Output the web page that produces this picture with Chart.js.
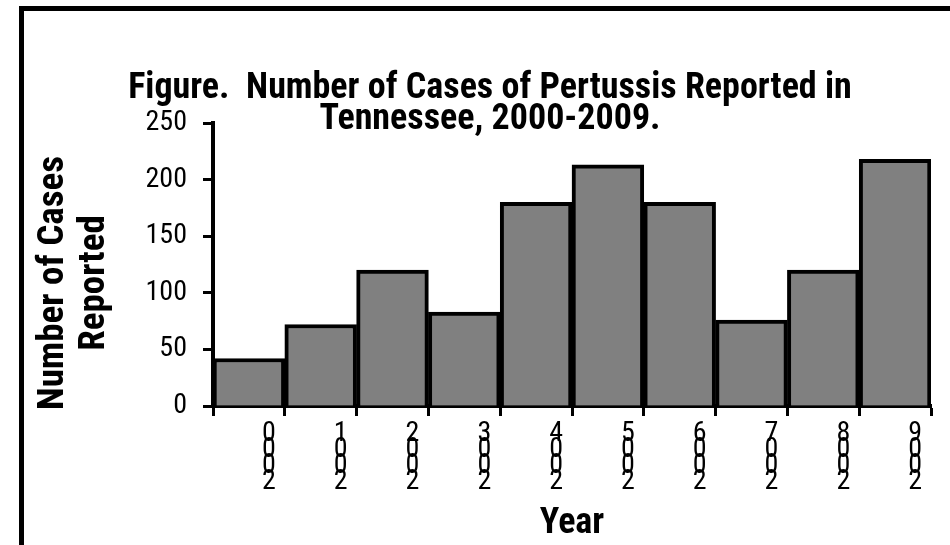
<!DOCTYPE html>
<html>
<head>
<meta charset="utf-8">
<script src="https://cdn.jsdelivr.net/npm/chart.js@4/dist/chart.umd.min.js"></script>
<style>
  html, body { margin: 0; padding: 0; background: #fff; width: 950px; height: 545px; overflow: hidden; }
  #frame { position: absolute; left: 19px; top: 6px; width: 1000px; height: 600px;
           border-left: 5px solid #000; border-top: 5px solid #000; box-sizing: border-box; }
  #chart { position: absolute; left: 0; top: 0; }
</style>
</head>
<body>
<div id="frame"></div>
<canvas id="chart" width="950" height="545"></canvas>
<script>
// Reported pertussis cases in Tennessee by year
const years = ['2000', '2001', '2002', '2003', '2004', '2005', '2006', '2007', '2008', '2009'];
const cases = [42, 72, 120, 83, 180, 213, 180, 76, 120, 218];

// Axis range
const yMin = 0;
const yMax = 250;
const yStep = 50;

// Year labels are stacked one character per line, last digit on top
const yearLabels = years.map(y => y.split('').reverse());

const titleLines = ['Figure.  Number of Cases of Pertussis Reported in', 'Tennessee, 2000-2009.'];
const yTitleLines = ['Number of Cases', 'Reported'];
const xTitle = 'Year';

const FAMILY = '"Roboto Condensed", "Liberation Sans Narrow", "Liberation Sans", Arial, sans-serif';
Chart.defaults.font.family = FAMILY;
Chart.defaults.color = '#000';

// Chart heading and the rotated value-axis caption
const captions = {
  id: 'captions',
  afterDraw(chart) {
    const ctx = chart.ctx;
    ctx.save();
    ctx.fillStyle = '#000';
    ctx.textBaseline = 'alphabetic';
    ctx.textAlign = 'center';
    ctx.font = 'bold 36px ' + FAMILY;
    titleLines.forEach((t, i) => ctx.fillText(t, 490, 98 + i * 31));

    ctx.font = 'bold 37px ' + FAMILY;
    const midY = 283;
    yTitleLines.forEach((t, i) => {
      ctx.save();
      ctx.translate(63 + i * 41, midY);
      ctx.rotate(-Math.PI / 2);
      ctx.fillText(t, 0, 0);
      ctx.restore();
    });
    ctx.restore();
  }
};

new Chart(document.getElementById('chart'), {
  type: 'bar',
  data: {
    labels: yearLabels,
    datasets: [{
      data: cases,
      backgroundColor: '#808080',
      borderColor: '#000',
      borderWidth: 4,
      barPercentage: 1,
      categoryPercentage: 1
    }]
  },
  plugins: [captions],
  options: {
    responsive: false,
    animation: false,
    devicePixelRatio: 1,
    layout: { padding: { left: 24, right: 19, top: 123, bottom: 0 } },
    plugins: {
      legend: { display: false },
      tooltip: { enabled: false },
      title: { display: false }
    },
    scales: {
      x: {
        grid: {
          offset: true,
          drawOnChartArea: false,
          drawTicks: true,
          tickLength: 10,
          tickColor: '#000',
          tickWidth: 3
        },
        border: { color: '#000', width: 4 },
        ticks: {
          autoSkip: false,
          maxRotation: 0,
          minRotation: 0,
          labelOffset: 20,
          padding: 9.5,
          color: '#000',
          font: { size: 28, lineHeight: 16 / 28 }
        },
        title: {
          display: true,
          text: xTitle,
          color: '#000',
          font: { size: 36, weight: 'bold', lineHeight: 1 },
          padding: { top: 0, bottom: 3 }
        },
        afterFit: (scale) => { scale.height = 139; }
      },
      y: {
        min: yMin,
        max: yMax,
        grid: {
          drawOnChartArea: false,
          drawTicks: true,
          tickLength: 10,
          tickColor: '#000',
          tickWidth: 3
        },
        border: { color: '#000', width: 4 },
        ticks: {
          stepSize: yStep,
          padding: 16,
          color: '#000',
          font: { size: 28 }
        },
        title: { display: false },
        afterFit: (scale) => { scale.width = 189; }
      }
    }
  }
});
</script>
</body>
</html>
